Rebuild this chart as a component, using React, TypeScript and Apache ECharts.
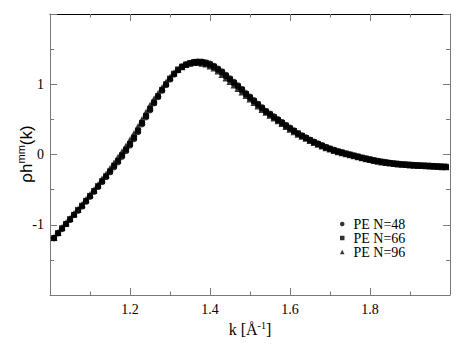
import React, { useEffect, useRef } from "react";
import * as echarts from "echarts";

const kValues = [
  1.01, 1.02, 1.03, 1.04, 1.05, 1.06, 1.07, 1.08, 1.09, 1.10,
  1.11, 1.12, 1.13, 1.14, 1.15, 1.16, 1.17, 1.18, 1.19, 1.20,
  1.21, 1.22, 1.23, 1.24, 1.25, 1.26, 1.27, 1.28, 1.29, 1.30,
  1.31, 1.32, 1.33, 1.34, 1.35, 1.36, 1.37, 1.38, 1.39, 1.40,
  1.41, 1.42, 1.43, 1.44, 1.45, 1.46, 1.47, 1.48, 1.49, 1.50,
  1.51, 1.52, 1.53, 1.54, 1.55, 1.56, 1.57, 1.58, 1.59, 1.60,
  1.61, 1.62, 1.63, 1.64, 1.65, 1.66, 1.67, 1.68, 1.69, 1.70,
  1.71, 1.72, 1.73, 1.74, 1.75, 1.76, 1.77, 1.78, 1.79, 1.80,
  1.81, 1.82, 1.83, 1.84, 1.85, 1.86, 1.87, 1.88, 1.89, 1.90,
  1.91, 1.92, 1.93, 1.94, 1.95, 1.96, 1.97, 1.98, 1.99,
];

const peN48 = [
  -1.19, -1.12, -1.06, -0.99, -0.93, -0.86, -0.8, -0.74, -0.67, -0.6,
  -0.53, -0.46, -0.39, -0.32, -0.25, -0.18, -0.11, -0.03, 0.05, 0.13,
  0.22, 0.32, 0.43, 0.53, 0.63, 0.73, 0.82, 0.91, 0.99, 1.07,
  1.14, 1.2, 1.25, 1.28, 1.3, 1.315, 1.32, 1.32, 1.31, 1.29,
  1.26, 1.22, 1.18, 1.13, 1.08, 1.03, 0.98, 0.93, 0.87, 0.82,
  0.77, 0.72, 0.67, 0.62, 0.58, 0.54, 0.5, 0.46, 0.42, 0.38,
  0.34, 0.3, 0.27, 0.24, 0.21, 0.18, 0.155, 0.13, 0.105, 0.085,
  0.065, 0.045, 0.03, 0.015, 0.0, -0.015, -0.03, -0.045, -0.058, -0.07,
  -0.082, -0.093, -0.103, -0.112, -0.12, -0.127, -0.133, -0.138, -0.142, -0.146,
  -0.15, -0.153, -0.156, -0.159, -0.162, -0.165, -0.168, -0.171, -0.174,
];

const peN66 = [
  -1.19, -1.12, -1.05, -0.99, -0.92, -0.86, -0.79, -0.73, -0.66, -0.59,
  -0.52, -0.45, -0.38, -0.31, -0.24, -0.16, -0.09, -0.01, 0.07, 0.15,
  0.24, 0.34, 0.45, 0.55, 0.65, 0.74, 0.83, 0.92, 1.0, 1.08,
  1.15, 1.21, 1.25, 1.28, 1.3, 1.315, 1.32, 1.315, 1.3, 1.28,
  1.25, 1.21, 1.17, 1.12, 1.07, 1.02, 0.97, 0.92, 0.86, 0.81,
  0.76, 0.71, 0.66, 0.61, 0.57, 0.53, 0.49, 0.45, 0.41, 0.37,
  0.335, 0.3, 0.265, 0.235, 0.205, 0.175, 0.15, 0.125, 0.1, 0.08,
  0.06, 0.042, 0.027, 0.012, -0.002, -0.017, -0.031, -0.046, -0.059, -0.071,
  -0.083, -0.094, -0.104, -0.113, -0.121, -0.128, -0.134, -0.139, -0.143, -0.147,
  -0.151, -0.154, -0.157, -0.16, -0.163, -0.166, -0.169, -0.172, -0.175,
];

const peN96 = [
  -1.18, -1.11, -1.04, -0.97, -0.91, -0.84, -0.78, -0.71, -0.64, -0.57,
  -0.5, -0.43, -0.35, -0.28, -0.2, -0.12, -0.04, 0.04, 0.12, 0.21,
  0.3, 0.4, 0.5, 0.6, 0.7, 0.79, 0.87, 0.95, 1.03, 1.1,
  1.16, 1.21, 1.25, 1.28, 1.3, 1.31, 1.31, 1.3, 1.29, 1.26,
  1.23, 1.19, 1.14, 1.09, 1.04, 0.99, 0.94, 0.89, 0.84, 0.79,
  0.74, 0.69, 0.64, 0.6, 0.56, 0.52, 0.48, 0.44, 0.4, 0.36,
  0.325, 0.29, 0.26, 0.23, 0.2, 0.17, 0.145, 0.12, 0.097, 0.077,
  0.057, 0.04, 0.025, 0.01, -0.004, -0.018, -0.032, -0.047, -0.06, -0.072,
  -0.084, -0.095, -0.105, -0.114, -0.122, -0.129, -0.135, -0.14, -0.144, -0.148,
  -0.152, -0.155, -0.158, -0.161, -0.164, -0.167, -0.17, -0.173, -0.176,
];

const seriesNames = ["PE N=48", "PE N=66", "PE N=96"];
const xTickLabels = ["1.2", "1.4", "1.6", "1.8"];
const yTickLabels = ["-1", "0", "1"];

const SERIF = "'Liberation Serif', 'Times New Roman', serif";
const SANS = "'Liberation Sans', Arial, sans-serif";
const AXIS_GRAY = "#7a7a7a";

export default function App() {
  const ref = useRef<HTMLDivElement>(null);

  useEffect(() => {
    if (!ref.current) return;
    const chart = echarts.init(ref.current, undefined, { renderer: "svg" });

    const pairs = (ys: number[]) => kValues.map((k, i) => [k, ys[i]]);

    const commonX = {
      type: "value" as const,
      min: 1,
      max: 2,
      interval: 0.2,
      splitLine: { show: false },
      axisTick: { show: true, inside: true, length: 7, lineStyle: { color: AXIS_GRAY } },
      minorTick: { show: true, splitNumber: 2, length: 3.5, lineStyle: { color: AXIS_GRAY } },
      minorSplitLine: { show: false },
    };
    const commonY = {
      type: "value" as const,
      min: -2,
      max: 2,
      interval: 1,
      splitLine: { show: false },
      axisTick: { show: true, inside: true, length: 7, lineStyle: { color: AXIS_GRAY } },
      minorTick: { show: true, splitNumber: 2, length: 4, lineStyle: { color: AXIS_GRAY } },
      minorSplitLine: { show: false },
    };

    chart.setOption({
      animation: false,
      backgroundColor: "#ffffff",
      grid: { left: 50, right: 22, top: 14, bottom: 60, containLabel: false },
      xAxis: [
        {
          ...commonX,
          position: "bottom",
          axisLine: { show: true, onZero: false, lineStyle: { color: AXIS_GRAY, width: 1 } },
          axisLabel: {
            show: true,
            margin: 7,
            color: "#000",
            fontFamily: SERIF,
            fontSize: 14,
            formatter: (v: number) => {
              const s = v.toFixed(1);
              return xTickLabels.includes(s) ? s : "";
            },
          },
        },
        {
          ...commonX,
          position: "top",
          axisLine: { show: true, onZero: false, lineStyle: { color: "#000", width: 1 } },
          axisLabel: { show: false },
        },
      ],
      yAxis: [
        {
          ...commonY,
          position: "left",
          axisLine: { show: true, onZero: false, lineStyle: { color: AXIS_GRAY, width: 1 } },
          axisLabel: {
            show: true,
            margin: 6,
            color: "#000",
            fontFamily: SERIF,
            fontSize: 14,
            formatter: (v: number) => {
              const s = String(Math.round(v));
              return yTickLabels.includes(s) ? s : "";
            },
          },
        },
        {
          ...commonY,
          position: "right",
          axisLine: { show: true, onZero: false, lineStyle: { color: AXIS_GRAY, width: 1 } },
          axisLabel: { show: false },
        },
      ],
      legend: {
        show: true,
        orient: "vertical",
        left: 340,
        top: 217,
        itemWidth: 4.5,
        itemHeight: 4.5,
        itemGap: 0,
        padding: 0,
        data: seriesNames,
        textStyle: {
          fontFamily: SERIF,
          fontSize: 14,
          lineHeight: 14,
          color: "#000",
          padding: [0, 0, 0, 4],
        },
      },
      series: [
        {
          name: seriesNames[0],
          type: "scatter",
          symbol: "circle",
          symbolSize: 6.5,
          itemStyle: { color: "#000" },
          data: pairs(peN48),
        },
        {
          name: seriesNames[1],
          type: "scatter",
          symbol: "rect",
          symbolSize: 6,
          itemStyle: { color: "#000" },
          data: pairs(peN66),
        },
        {
          name: seriesNames[2],
          type: "scatter",
          symbol: "triangle",
          symbolSize: 7,
          itemStyle: { color: "#000" },
          data: pairs(peN96),
        },
      ],
      graphic: [
        {
          type: "text",
          x: 250,
          y: 329,
          style: {
            text: "k [Å{sup|-1}]",
            fontFamily: SERIF,
            fontSize: 16,
            fill: "#000",
            align: "center",
            verticalAlign: "middle",
            rich: {
              sup: { fontSize: 10, fontFamily: SERIF, verticalAlign: "top", lineHeight: 18, fill: "#000" },
            },
          },
        },
        {
          type: "text",
          x: 26,
          y: 154,
          rotation: Math.PI / 2,
          style: {
            text: "ρh{sup|mm}(k)",
            fontFamily: SANS,
            fontSize: 17,
            fill: "#000",
            align: "center",
            verticalAlign: "middle",
            rich: {
              sup: { fontSize: 11, fontFamily: SANS, verticalAlign: "top", lineHeight: 21, fill: "#000" },
            },
          },
        },
      ],
    });

    return () => chart.dispose();
  }, []);

  return (
    <div
      ref={ref}
      style={{ position: "fixed", left: 0, top: 0, width: 472, height: 355, background: "#fff" }}
    />
  );
}
